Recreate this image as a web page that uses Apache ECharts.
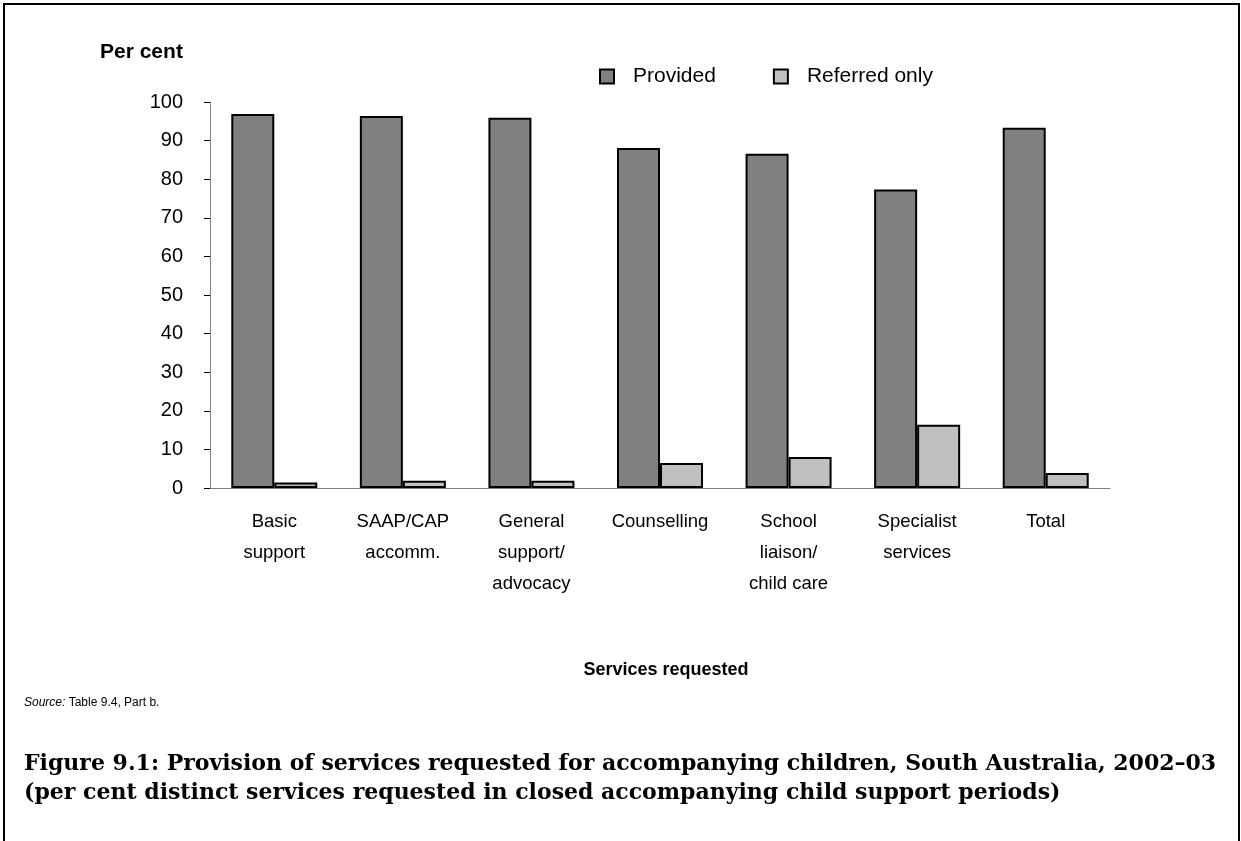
<!DOCTYPE html>
<html>
<head>
<meta charset="utf-8">
<script src="https://cdn.jsdelivr.net/npm/echarts@6/dist/echarts.min.js"></script>
<style>
  html, body { margin: 0; padding: 0; background: #fff; }
  #chart { width: 1241px; height: 841px; }
</style>
</head>
<body>
<div id="chart"></div>
<script>
// Services requested for accompanying children, South Australia, 2002–03
const categories = [
  'Basic\nsupport',
  'SAAP/CAP\naccomm.',
  'General\nsupport/\nadvocacy',
  'Counselling',
  'School\nliaison/\nchild care',
  'Specialist\nservices',
  'Total'
];
const provided = [96.9, 96.4, 95.9, 88.1, 86.6, 77.3, 93.3];
const referredOnly = [1.4, 1.9, 1.9, 6.5, 8.0, 16.4, 3.9];
const yTicks = { min: 0, max: 100, step: 10 };

const SANS = '"Liberation Sans", Arial, sans-serif';
const SERIF = '"DejaVu Serif", serif';

const chart = echarts.init(document.getElementById('chart'), null, { renderer: 'canvas' });

chart.setOption({
  backgroundColor: '#ffffff',
  animation: false,
  grid: { left: 210, right: 131, top: 102, bottom: 353, containLabel: false },
  legend: {
    data: ['Provided', 'Referred only'],
    left: 599,
    top: 66,
    padding: 0,
    itemWidth: 14,
    itemHeight: 14,
    itemGap: 57,
    icon: 'rect',
    textStyle: { fontFamily: SANS, fontSize: 21, lineHeight: 20, color: '#000', padding: [0, 0, 0, 14] }
  },
  xAxis: {
    type: 'category',
    data: categories,
    axisLine: { show: true, lineStyle: { color: '#808080', width: 1 } },
    axisTick: { show: false },
    axisLabel: {
      interval: 0,
      margin: 18,
      fontFamily: SANS,
      fontSize: 18.5,
      lineHeight: 31,
      color: '#000'
    }
  },
  yAxis: {
    type: 'value',
    min: yTicks.min,
    max: yTicks.max,
    interval: yTicks.step,
    axisLine: { show: true, lineStyle: { color: '#808080', width: 1 } },
    axisTick: { show: true, length: 6, lineStyle: { color: '#000', width: 1 } },
    splitLine: { show: false },
    axisLabel: { margin: 27, fontFamily: SANS, fontSize: 20, color: '#000' }
  },
  series: [
    {
      name: 'Provided',
      type: 'bar',
      data: provided,
      barWidth: 43,
      barGap: '0%',
      itemStyle: { color: '#808080', borderColor: '#000', borderWidth: 2 }
    },
    {
      name: 'Referred only',
      type: 'bar',
      data: referredOnly,
      barWidth: 43,
      barGap: '0%',
      itemStyle: { color: '#c0c0c0', borderColor: '#000', borderWidth: 2 }
    }
  ],
  graphic: [
    // outer frame
    {
      type: 'rect',
      shape: { x: 4, y: 4, width: 1235, height: 845 },
      style: { fill: 'none', stroke: '#000', lineWidth: 2 },
      silent: true
    },
    {
      type: 'text', x: 100, y: 52,
      style: { text: 'Per cent', font: 'bold 21px ' + SANS, fill: '#000', verticalAlign: 'middle' }
    },
    {
      type: 'text', x: 666, y: 670,
      style: { text: 'Services requested', font: 'bold 18px ' + SANS, fill: '#000', align: 'center', verticalAlign: 'middle' }
    },
    {
      type: 'text', x: 24, y: 703,
      style: {
        text: '{i|Source:} Table 9.4, Part b.',
        verticalAlign: 'middle',
        rich: {
          i: { font: 'italic 12px ' + SANS, fill: '#000' }
        },
        font: '12px ' + SANS,
        fill: '#000'
      }
    },
    {
      type: 'text', x: 24, y: 764,
      style: {
        text: 'Figure 9.1: Provision of services requested for accompanying children, South Australia, 2002–03',
        font: 'bold 22px ' + SERIF, fill: '#000', verticalAlign: 'middle'
      }
    },
    {
      type: 'text', x: 24, y: 793,
      style: {
        text: '(per cent distinct services requested in closed accompanying child support periods)',
        font: 'bold 22px ' + SERIF, fill: '#000', verticalAlign: 'middle'
      }
    }
  ]
});
</script>
</body>
</html>
